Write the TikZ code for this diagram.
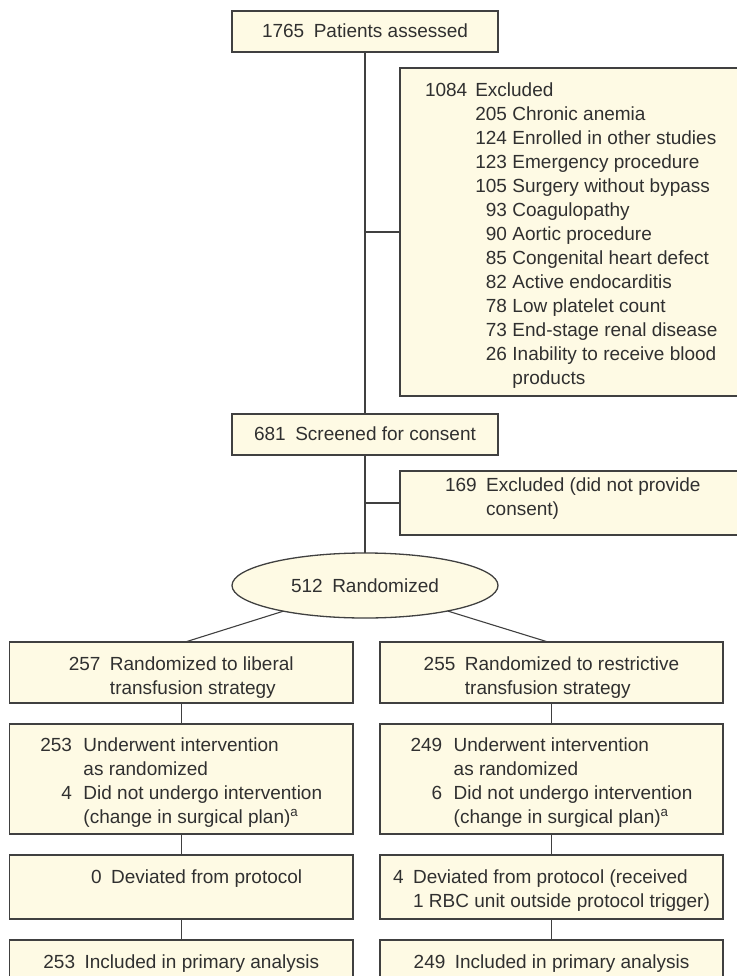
\documentclass[tikz,border=0pt]{standalone}
\usepackage{fontspec}
\setmainfont{Liberation Sans}
\usetikzlibrary{shapes.geometric}
\definecolor{boxfill}{HTML}{FEFAE4}
\definecolor{boxline}{HTML}{404040}
\definecolor{txtcol}{HTML}{303030}
\newcommand{\gp}{\hspace{0.5em}}
\tikzset{
  box/.style={rectangle, draw=boxline, fill=boxfill, line width=1.3pt, inner sep=0pt, outer sep=0pt},
  conn/.style={draw=boxline, line width=1.1pt},
  txt/.style={inner sep=0pt, outer sep=0pt, text=txtcol, font=\fontsize{19}{24}\selectfont},
}
\begin{document}
\begin{tikzpicture}[x=1pt,y=-1pt]
\useasboundingbox (0,0) rectangle (736,976);
% top part
\node[box, minimum width=266pt, minimum height=41pt, anchor=north west] (top) at (232,11) {};
\node[txt, anchor=base] (ttop) at (365,38) {1765\gp Patients assessed};

\node[box, minimum width=345pt, minimum height=328pt, anchor=north west] (exc) at (400,68) {};
\node[txt, anchor=base west] (texc) at (425,97) {\begin{tabular}[t]{@{}l@{\hspace{8pt}}r@{\hspace{5.5pt}}l@{}}
1084 & \multicolumn{2}{@{}l@{}}{Excluded}\\
 & 205 & Chronic anemia\\
 & 124 & Enrolled in other studies\\
 & 123 & Emergency procedure\\
 & 105 & Surgery without bypass\\
 & 93 & Coagulopathy\\
 & 90 & Aortic procedure\\
 & 85 & Congenital heart defect\\
 & 82 & Active endocarditis\\
 & 78 & Low platelet count\\
 & 73 & End-stage renal disease\\
 & 26 & Inability to receive blood\\
 & & products
\end{tabular}};

\node[box, minimum width=266pt, minimum height=41pt, anchor=north west] (scr) at (232,414) {};
\node[txt, anchor=base] (tscr) at (365,440) {681\gp Screened for consent};

\node[box, minimum width=345pt, minimum height=64pt, anchor=north west] (ex2) at (400,471) {};
\node[txt, anchor=base west] (tex2) at (445,491) {\begin{tabular}[t]{@{}r@{\gp}l@{}}
169 & Excluded (did not provide\\
 & consent)
\end{tabular}};

\node[ellipse, draw=boxline, fill=boxfill, line width=1.3pt, inner sep=0pt, outer sep=0pt, minimum width=266pt, minimum height=65pt] (ell) at (365,585.5) {};
\node[txt, anchor=base] (tell) at (365,592) {512\gp Randomized};

% left column
\node[box, minimum width=343.5pt, minimum height=61pt, anchor=north west] (l1) at (9.5,642) {};
\node[box, minimum width=343.5pt, minimum height=110pt, anchor=north west] (l2) at (9.5,724) {};
\node[box, minimum width=343.5pt, minimum height=64pt, anchor=north west] (l3) at (9.5,855) {};
\node[box, minimum width=343.5pt, minimum height=60pt, anchor=north west] (l4) at (9.5,940) {};
% right column
\node[box, minimum width=343pt, minimum height=61pt, anchor=north west] (r1) at (380,642) {};
\node[box, minimum width=343pt, minimum height=110pt, anchor=north west] (r2) at (380,724) {};
\node[box, minimum width=343pt, minimum height=64pt, anchor=north west] (r3) at (380,855) {};
\node[box, minimum width=343pt, minimum height=60pt, anchor=north west] (r4) at (380,940) {};

\node[txt, anchor=base] (tl1) at (181.25,670) {\begin{tabular}[t]{@{}r@{\gp}l@{}}
257 & Randomized to liberal\\
 & transfusion strategy
\end{tabular}};
\node[txt, anchor=base] (tr1) at (551.5,670) {\begin{tabular}[t]{@{}r@{\gp}l@{}}
255 & Randomized to restrictive\\
 & transfusion strategy
\end{tabular}};

\node[txt, anchor=base] (tl2) at (181.25,751) {\begin{tabular}[t]{@{}r@{\hspace{0.6em}}l@{}}
253 & Underwent intervention\\
 & as randomized\\
4 & Did not undergo intervention\\
 & (change in surgical plan)\textsuperscript{a}
\end{tabular}};
\node[txt, anchor=base] (tr2) at (551.5,751) {\begin{tabular}[t]{@{}r@{\hspace{0.6em}}l@{}}
249 & Underwent intervention\\
 & as randomized\\
6 & Did not undergo intervention\\
 & (change in surgical plan)\textsuperscript{a}
\end{tabular}};

\node[txt, anchor=base west] (tl3) at (91,883) {0\gp Deviated from protocol};
\node[txt, anchor=base] (tr3) at (551.5,883) {\begin{tabular}[t]{@{}r@{\gp}l@{}}
4 & Deviated from protocol (received\\
 & 1 RBC unit outside protocol trigger)
\end{tabular}};

\node[txt, anchor=base] (tl4) at (181.25,968) {253\gp Included in primary analysis};
\node[txt, anchor=base] (tr4) at (551.5,968) {249\gp Included in primary analysis};

% connectors
\draw[conn] (top.south) -- (scr.north);
\draw[conn] (exc.west) -- (exc.west -| top.south);
\draw[conn] (ex2.west) -- (ex2.west -| scr.south);
\draw[conn] (scr.south) -- (ell.north);
\draw[conn] (ell) -- ([xshift=4pt]l1.north);
\draw[conn] (ell) -- ([xshift=-3.5pt]r1.north);
\draw[conn] (l1.south) -- (l2.north);
\draw[conn] (l2.south) -- (l3.north);
\draw[conn] (l3.south) -- (l4.north);
\draw[conn] (r1.south) -- (r2.north);
\draw[conn] (r2.south) -- (r3.north);
\draw[conn] (r3.south) -- (r4.north);
\end{tikzpicture}
\end{document}
